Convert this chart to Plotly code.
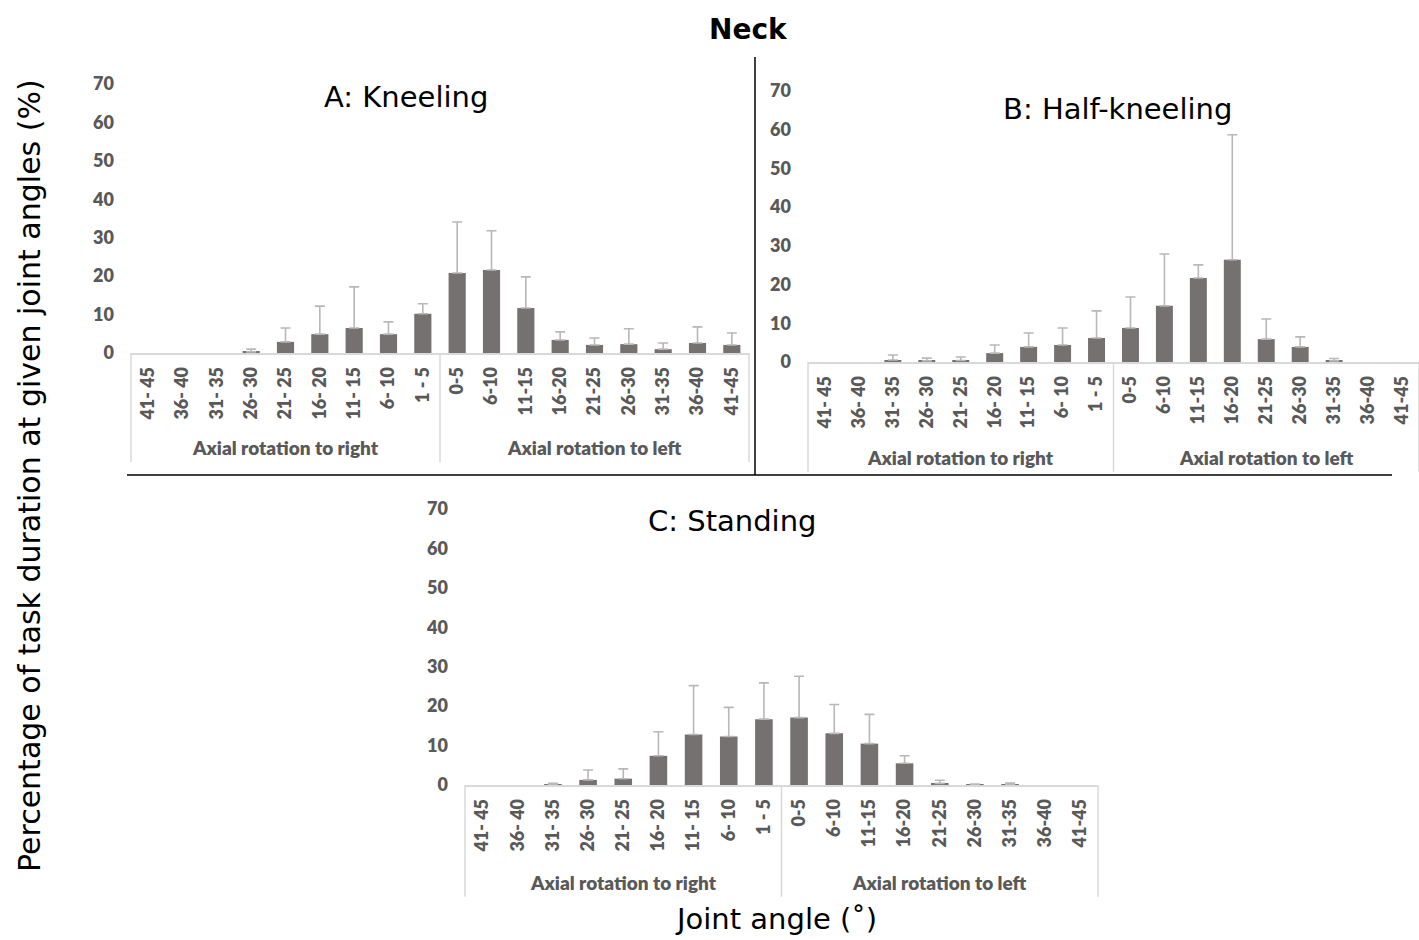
import numpy as np
import plotly.graph_objects as go

# ---- data ----
categories = ["41- 45", "36- 40", "31- 35", "26- 30", "21- 25", "16- 20", "11- 15", "6- 10", "1 - 5",
              "0-5", "6-10", "11-15", "16-20", "21-25", "26-30", "31-35", "36-40", "41-45"]
group_labels = ["Axial rotation to right", "Axial rotation to left"]

kneeling_mean = [0, 0, 0, 0.3, 2.9, 4.9, 6.5, 4.9, 10.2, 20.8, 21.6, 11.7, 3.4, 2.1, 2.3, 1.0, 2.6, 2.1]
kneeling_sd = [None, None, None, 0.7, 3.6, 7.3, 10.7, 3.2, 2.6, 13.3, 10.2, 8.1, 2.1, 1.8, 4.0, 1.6, 4.2, 3.1]

halfkneel_mean = [0, 0, 0.5, 0.3, 0.4, 2.3, 3.9, 4.4, 6.2, 8.8, 14.5, 21.7, 26.4, 5.9, 3.9, 0.3, 0, 0]
halfkneel_sd = [None, None, 1.3, 0.7, 0.9, 2.1, 3.6, 4.4, 7.0, 8.0, 13.4, 3.4, 32.3, 5.2, 2.6, 0.6, None, None]

standing_mean = [0, 0, 0.05, 1.3, 1.6, 7.4, 12.8, 12.3, 16.7, 17.1, 13.1, 10.5, 5.5, 0.4, 0.05, 0.1, 0, 0]
standing_sd = [None, None, 0.35, 2.5, 2.5, 6.1, 12.4, 7.4, 9.2, 10.5, 7.3, 7.4, 1.9, 0.8, 0.2, 0.4, None, None]

panel_titles = ["A: Kneeling", "B: Half-kneeling", "C: Standing"]
main_title = "Neck"
y_title = "Percentage of task duration at given joint angles (%)"
x_title = "Joint angle (˚)"
y_ticks = [0, 10, 20, 30, 40, 50, 60, 70]

# ---- styling ----
BAR = "#767171"
ERR = "#b8b8b8"
TICKC = "#595959"
AXC = "#d9d9d9"
NARROW = "Lato, Liberation Sans Narrow, Arial Narrow, sans-serif"
VERD = "DejaVu Sans, Verdana, sans-serif"
W, H = 1419, 940


def px_x(v):
    return v / W


def px_y(v):
    return 1 - v / H


fig = go.Figure()

panels = [
    (kneeling_mean, kneeling_sd, "x", "y", [px_x(131), px_x(749)], [px_y(353), px_y(84)]),
    (halfkneel_mean, halfkneel_sd, "x2", "y2", [px_x(808), 1.0], [px_y(362), px_y(91)]),
    (standing_mean, standing_sd, "x3", "y3", [px_x(465), px_x(1098)], [px_y(785), px_y(509)]),
]

for i, (mean, sd, xa, ya, xd, yd) in enumerate(panels):
    sd_arr = np.array(sd, dtype=float)  # None -> NaN: no error bar drawn
    fig.add_trace(go.Bar(
        x=categories, y=mean, xaxis=xa, yaxis=ya,
        marker=dict(color=BAR, line=dict(width=0)),
        error_y=dict(type="data", symmetric=False, array=sd_arr,
                     arrayminus=sd_arr * 0.0, color=ERR, thickness=1.6, width=5),
        showlegend=False, hoverinfo="x+y",
    ))
    sfx = "" if i == 0 else str(i + 1)
    fig.layout["xaxis" + sfx] = dict(
        domain=xd, anchor=ya, type="category", range=[-0.5, 17.5], automargin=False,
        showline=True, linecolor=AXC, linewidth=1.5, showgrid=False, zeroline=False,
        tickangle=-90, ticks="", ticklabelstandoff=5,
        tickfont=dict(family=NARROW, size=18, color=TICKC, weight=800),
    )
    fig.layout["yaxis" + sfx] = dict(
        domain=yd, anchor=xa, range=[0, 70], tickvals=y_ticks, automargin=False,
        showline=False, showgrid=False, zeroline=False, ticks="",
        ticklabelstandoff=16,
        tickfont=dict(family=NARROW, size=18, color=TICKC, weight=800),
    )
    xdom = xa + " domain"
    ydom = ya + " domain"
    for xv in [0, 0.5, 1]:
        fig.add_shape(type="line", xref=xdom, yref=ydom, x0=xv, x1=xv, y0=0, y1=-0.405,
                      line=dict(color=AXC, width=1.5))
    for gx, gl in zip([0.25, 0.75], group_labels):
        fig.add_annotation(text=gl, xref=xdom, yref=ydom, x=gx, y=-0.353,
                           showarrow=False, xanchor="center", yanchor="middle",
                           font=dict(family=NARROW, size=19, color=TICKC, weight=800))

# panel titles
for t, (px, py) in zip(panel_titles, [(406, 97), (1117, 109), (732, 521)]):
    fig.add_annotation(text=t, xref="paper", yref="paper", x=px_x(px), y=px_y(py),
                       showarrow=False, xanchor="center", yanchor="middle",
                       font=dict(family=VERD, size=29, color="#000000"))

fig.add_annotation(text="<b>" + main_title + "</b>", xref="paper", yref="paper",
                   x=px_x(748), y=px_y(30), showarrow=False,
                   xanchor="center", yanchor="middle",
                   font=dict(family=VERD, size=28, color="#000000"))
fig.add_annotation(text=y_title, xref="paper", yref="paper", x=px_x(30), y=px_y(476),
                   textangle=-90, showarrow=False, xanchor="center", yanchor="middle",
                   font=dict(family=VERD, size=30, color="#000000"))
fig.add_annotation(text=x_title, xref="paper", yref="paper", x=px_x(776), y=px_y(919),
                   showarrow=False, xanchor="center", yanchor="middle",
                   font=dict(family=VERD, size=29, color="#000000"))

# divider lines
fig.add_shape(type="line", xref="paper", yref="paper", x0=px_x(755), x1=px_x(755),
              y0=px_y(57), y1=px_y(475), line=dict(color="#000000", width=1.5))
fig.add_shape(type="line", xref="paper", yref="paper", x0=px_x(127), x1=px_x(1392),
              y0=px_y(475), y1=px_y(475), line=dict(color="#000000", width=1.5))

fig.update_layout(
    template="none",
    width=W, height=H, margin=dict(l=0, r=0, t=0, b=0, pad=0),
    paper_bgcolor="white", plot_bgcolor="white",
    bargap=0.5, showlegend=False,
)

fig.write_html("out.html", config={"displayModeBar": False},
               post_script="document.body.style.margin='0';document.body.style.overflow='hidden';")
